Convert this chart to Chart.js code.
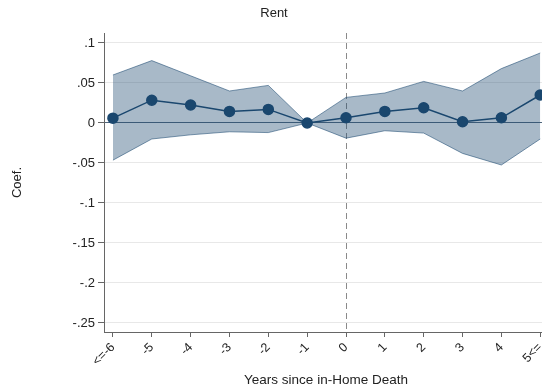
<!DOCTYPE html>
<html lang="en">
<head>
    <meta charset="UTF-8">
    <title>Rent</title>
    <script src="https://cdn.jsdelivr.net/npm/chart.js"></script>
    <style>
        body { margin: 0; overflow: hidden; background: #fff; }
        .wrap { width: 560px; height: 389px; }
    </style>
</head>
<body>
    <div class="wrap"><canvas id="rentChart"></canvas></div>
    <script>
        // event-time coefficients with 95% bands
        const years = [-6, -5, -4, -3, -2, -1, 0, 1, 2, 3, 4, 5];
        const yearLabels = ['<=-6', '-5', '-4', '-3', '-2', '-1', '0', '1', '2', '3', '4', '5<='];
        const coef  = [0.006, 0.0285, 0.0225, 0.0145, 0.017, 0, 0.0065, 0.0145, 0.019, 0.0015, 0.0065, 0.035];
        const upper = [0.060, 0.078, 0.059, 0.040, 0.047, 0, 0.032, 0.0375, 0.052, 0.040, 0.068, 0.0875];
        const lower = [-0.0465, -0.020, -0.0148, -0.011, -0.012, 0, -0.019, -0.0097, -0.0126, -0.038, -0.0525, -0.020];
        const yTicks = [-0.25, -0.2, -0.15, -0.1, -0.05, 0, 0.05, 0.1];
        const yTickLabels = ['-.25', '-.2', '-.15', '-.1', '-.05', '0', '.05', '.1'];

        const navy = '#1a476f';
        const font = 'Helvetica, "Liberation Sans", Arial, sans-serif';
        Chart.defaults.font.family = font;
        Chart.defaults.color = '#222';

        const pts = arr => years.map((x, i) => ({ x: x, y: arr[i] }));

        // dashed reference line at year 0
        const eventLine = {
            id: 'eventLine',
            beforeDatasetsDraw(chart) {
                const { ctx, chartArea, scales } = chart;
                const x = Math.round(scales.x.getPixelForValue(0)) + 0.5;
                ctx.save();
                ctx.strokeStyle = '#8a8a8a';
                ctx.lineWidth = 1;
                ctx.setLineDash([6, 4]);
                ctx.beginPath();
                ctx.moveTo(x, chartArea.top);
                ctx.lineTo(x, chartArea.bottom);
                ctx.stroke();
                ctx.restore();
            }
        };

        new Chart(document.getElementById('rentChart'), {
            type: 'line',
            data: {
                datasets: [
                    {
                        data: pts(upper),
                        borderColor: 'rgba(26,71,111,0.55)',
                        borderWidth: 1,
                        backgroundColor: 'rgba(26,71,111,0.38)',
                        pointRadius: 0,
                        fill: '+1'
                    },
                    {
                        data: pts(lower),
                        borderColor: 'rgba(26,71,111,0.55)',
                        borderWidth: 1,
                        pointRadius: 0,
                        fill: false
                    },
                    {
                        data: pts(coef),
                        borderColor: navy,
                        borderWidth: 1.5,
                        pointRadius: 5,
                        pointBackgroundColor: navy,
                        pointBorderColor: navy,
                        fill: false
                    }
                ]
            },
            options: {
                responsive: true,
                maintainAspectRatio: false,
                animation: false,
                clip: false,
                layout: { padding: { left: 0, right: 12, top: 0, bottom: 0 } },
                plugins: {
                    legend: { display: false },
                    tooltip: { enabled: false },
                    title: {
                        display: true,
                        text: 'Rent',
                        color: '#222',
                        font: { size: 13, weight: 'normal' },
                        padding: { top: 6, bottom: 11.4 }
                    }
                },
                scales: {
                    x: {
                        type: 'linear',
                        min: -6.23,
                        max: 5.2,
                        afterBuildTicks: s => { s.ticks = years.map(v => ({ value: v })); },
                        afterFit: s => { s.height = 57; s.paddingRight = 0; },
                        border: { color: '#666', width: 1 },
                        grid: { drawOnChartArea: false, tickColor: '#666', tickLength: 5 },
                        ticks: {
                            minRotation: 45,
                            maxRotation: 45,
                            padding: 3,
                            font: { size: 12.5 },
                            callback: v => yearLabels[years.indexOf(v)]
                        },
                        title: {
                            display: true,
                            text: 'Years since in-Home Death',
                            font: { size: 13.5 },
                            padding: { top: 0, bottom: 1 }
                        }
                    },
                    y: {
                        min: -0.2613,
                        max: 0.1125,
                        afterBuildTicks: s => { s.ticks = yTicks.map(v => ({ value: v })); },
                        afterFit: s => { s.width = 104; },
                        border: { color: '#666', width: 1 },
                        grid: {
                            color: c => (c.tick && c.tick.value === 0) ? '#50667c' : '#e8e8e8',
                            tickColor: '#666',
                            tickLength: 6
                        },
                        ticks: {
                            padding: 3,
                            font: { size: 13 },
                            callback: v => yTickLabels[yTicks.indexOf(v)]
                        },
                        title: {
                            display: true,
                            text: 'Coef.',
                            font: { size: 13 },
                            padding: { top: 10, bottom: 0 }
                        }
                    }
                }
            },
            plugins: [eventLine]
        });
    </script>
</body>
</html>
